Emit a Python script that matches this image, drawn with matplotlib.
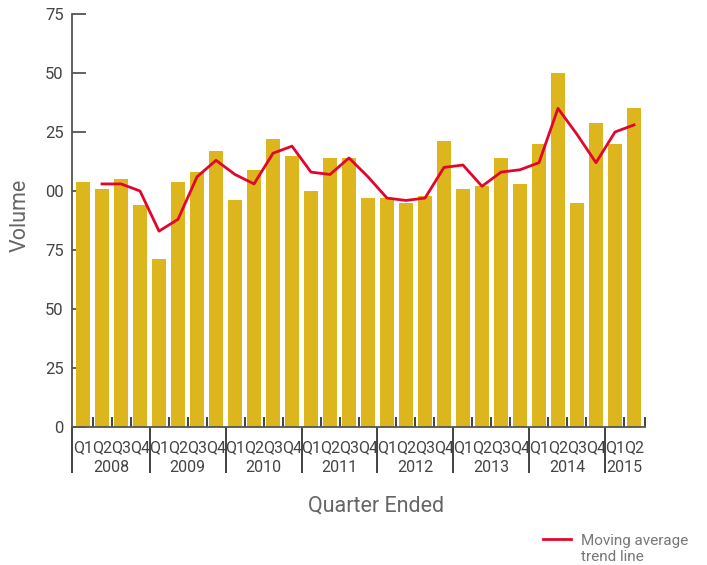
import matplotlib
matplotlib.use("Agg")
import matplotlib.pyplot as plt
import matplotlib.transforms as mtransforms
import numpy as np

# Quarterly volumes, 2008 Q1 to 2015 Q2
years = ["2008", "2009", "2010", "2011", "2012", "2013", "2014", "2015"]
quarters = ["Q1", "Q2", "Q3", "Q4"] * 7 + ["Q1", "Q2"]
volume = [104, 101, 105, 94, 71, 104, 108, 117, 96, 109, 122, 115,
          100, 114, 114, 97, 97, 95, 98, 121, 101, 102, 114, 103,
          120, 150, 95, 129, 120, 135]
# moving average trend line (starts at the second quarter)
trend = [None, 103, 103, 100, 83, 88, 106, 113, 107, 103, 116, 119,
         108, 107, 114, 106, 97, 96, 97, 110, 111, 102, 108, 109,
         112, 135, 124, 112, 125, 128]
ytick_vals = [0, 25, 50, 75, 100, 125, 150, 175]
ytick_text = ["0", "25", "50", "75", "00", "25", "50", "75"]

plt.rcParams["font.family"] = ["Roboto", "DejaVu Sans"]

gold = "#DDB51D"
red = "#E2062C"
grey = "#444444"
axis_grey = "#555555"

W, H = 707, 565
fig = plt.figure(figsize=(W / 100, H / 100), dpi=100)
ax = fig.add_axes([72 / W, (H - 427) / H, (645 - 72) / W, (427 - 14) / H])

x = np.arange(len(volume))
ax.bar(x, volume, width=0.74, color=gold, zorder=2)
tx = [i for i, v in enumerate(trend) if v is not None]
ty = [v for v in trend if v is not None]
ax.plot(tx, ty, color=red, lw=2, zorder=3)

ax.set_xlim(-0.58, 29.58)
ax.set_ylim(0, 175)

for s in ["top", "right"]:
    ax.spines[s].set_visible(False)
for s in ["left", "bottom"]:
    ax.spines[s].set_color(axis_grey)
    ax.spines[s].set_linewidth(1.3)

ax.set_yticks(ytick_vals)
ax.set_yticklabels(ytick_text)
ax.tick_params(axis="y", direction="in", length=10, width=1.3, color=axis_grey,
               labelsize=12, labelcolor=grey, pad=6)

# group separators below the axis (major) and small inner ticks between bars (minor)
ax.set_xticks([-0.58] + [3.5 + 4 * k for k in range(7)])
ax.set_xticklabels([])
ax.set_xticks([i + 0.5 for i in range(29)] + [29.58], minor=True)
ax.tick_params(axis="x", which="major", direction="out", length=33, width=1.2, color="#222222")
ax.tick_params(axis="x", which="minor", direction="in", length=7, width=1.2, color="#222222")

trans = mtransforms.blended_transform_factory(ax.transData, fig.transFigure)
for i, q in enumerate(quarters):
    ax.text(i, 1 - 448 / H, q, transform=trans, ha="center", va="center",
            fontsize=11.5, color=grey)
for k, yr in enumerate(years):
    first = 4 * k
    last = min(first + 3, len(volume) - 1)
    ax.text((first + last) / 2, 1 - 467 / H, yr, transform=trans, ha="center",
            va="center", fontsize=11.5, color=grey)

fig.text(20 / W, 1 - 215 / H, "Volume", rotation=90, ha="center", va="center",
         fontsize=15.5, color="#666666")
fig.text(376 / W, 1 - 506 / H, "Quarter Ended", ha="center", va="center",
         fontsize=15.5, color="#666666")

# legend
fig.add_artist(plt.Line2D([543 / W, 571 / W], [1 - 539 / H, 1 - 539 / H], color=red, lw=2))
fig.text(581 / W, 1 - 549 / H, "Moving average\ntrend line", ha="left", va="center",
         fontsize=11, color="#777777", linespacing=1.15)

fig.savefig("out.png", dpi=100)
